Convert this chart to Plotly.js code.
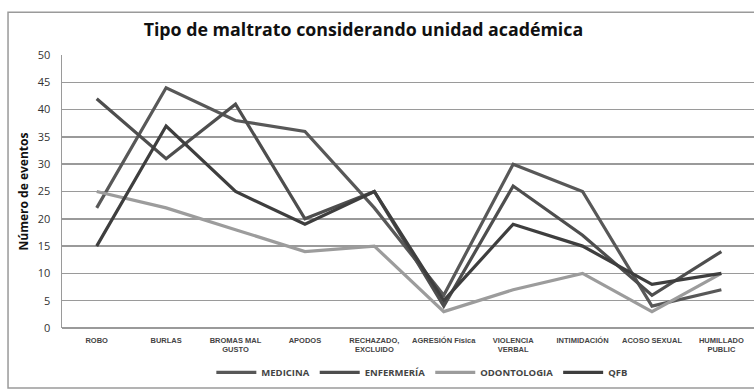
<!DOCTYPE html>
<html>
<head>
<meta charset="utf-8">
<script src="https://cdn.plot.ly/plotly-3.0.1.min.js"></script>
<style>html,body{margin:0;padding:0;background:#fff;}#chart{width:754px;height:392px;}</style>
</head>
<body>
<div id="chart"></div>
<script>
const categories = ["ROBO", "BURLAS", "BROMAS MAL<br>GUSTO", "APODOS", "RECHAZADO,<br>EXCLUIDO", "AGRESIÓN Física", "VIOLENCIA<br>VERBAL", "INTIMIDACIÓN", "ACOSO SEXUAL", "HUMILLADO<br>PUBLIC"];
const seriesNames = ["MEDICINA", "ENFERMERÍA", "ODONTOLOGIA", "QFB"];
const medicina = [22, 44, 38, 36, 22, 6, 30, 25, 4, 7];
const enfermeria = [42, 31, 41, 20, 25, 4, 26, 17, 6, 14];
const odontologia = [25, 22, 18, 14, 15, 3, 7, 10, 3, 10];
const qfb = [15, 37, 25, 19, 25, 5, 19, 15, 8, 10];
const yTicks = [0, 5, 10, 15, 20, 25, 30, 35, 40, 45, 50];

const colors = ["#585858", "#4e4e4e", "#9c9c9c", "#3e3e3e"];
const values = [medicina, enfermeria, odontologia, qfb];

const traces = values.map((v, i) => ({
  type: "scatter",
  mode: "lines",
  x: categories,
  y: v,
  name: seriesNames[i],
  line: {color: colors[i], width: 3.2}
}));

const layout = {
  width: 754,
  height: 392,
  margin: {l: 62, r: 0, t: 55, b: 64},
  paper_bgcolor: "#ffffff",
  plot_bgcolor: "#ffffff",
  font: {family: "Open Sans, Liberation Sans, sans-serif", color: "#333"},
  title: {
    text: "<b>Tipo de maltrato considerando unidad académica</b>",
    font: {size: 17.8, color: "#111", family: "Open Sans, sans-serif"},
    x: 0.482, xanchor: "center",
    y: 0.925, yanchor: "middle", yref: "container"
  },
  xaxis: {
    type: "category",
    range: [-0.5, 9.47],
    showgrid: false,
    showline: false,
    zeroline: false,
    tickfont: {size: 7.5, family: "Liberation Sans, sans-serif", color: "#444", weight: "bold"},
    tickangle: 0,
    ticklabelstandoff: 6
  },
  yaxis: {
    range: [0, 50],
    tickvals: yTicks,
    showgrid: true,
    gridcolor: "#9a9a9a",
    gridwidth: 1.5,
    zeroline: true,
    zerolinecolor: "#9a9a9a",
    zerolinewidth: 1.5,
    showline: true,
    linecolor: "#9a9a9a",
    linewidth: 1.5,
    tickfont: {size: 11, color: "#333"},
    ticklabelstandoff: 8,
    title: {text: "<b>Número de eventos</b>", font: {size: 12, color: "#111"}, standoff: 6}
  },
  legend: {
    orientation: "h",
    x: 0.52, xanchor: "center",
    y: 0.05, yanchor: "middle", yref: "container",
    font: {size: 9.5, color: "#444", weight: "bold"},
    itemwidth: 40,
    traceorder: "normal"
  },
  shapes: [{
    type: "rect", xref: "paper", yref: "paper",
    x0: -0.078, x1: 1.05, y0: -0.22, y1: 1.157,
    line: {color: "#9a9a9a", width: 1.5},
    fillcolor: "rgba(0,0,0,0)",
    layer: "below"
  }],
  showlegend: true
};

Plotly.newPlot("chart", traces, layout, {displayModeBar: false, staticPlot: true});
</script>
</body>
</html>
